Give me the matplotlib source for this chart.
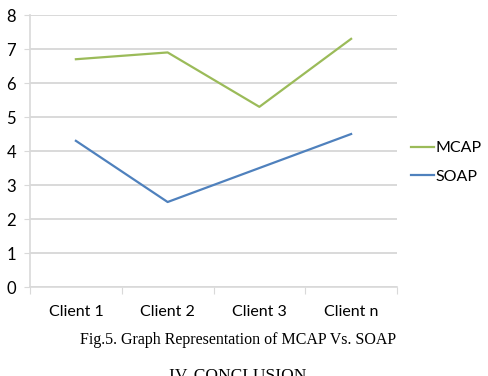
import matplotlib
matplotlib.use("Agg")
import matplotlib.pyplot as plt

clients = ["Client 1", "Client 2", "Client 3", "Client n"]
mcap = [6.7, 6.9, 5.3, 7.3]
soap = [4.3, 2.5, 3.5, 4.5]
yticks = [0, 1, 2, 3, 4, 5, 6, 7, 8]

plt.rcParams['font.family'] = ['Lato', 'DejaVu Sans']

fig = plt.figure(figsize=(4.88, 3.76), dpi=100)
ax = fig.add_axes([0.0615, 0.2367, 0.752, 0.7233])

x = list(range(len(clients)))
ax.plot(x, mcap, color="#9bbb59", lw=1.6, label="MCAP")
ax.plot(x, soap, color="#4f81bd", lw=1.6, label="SOAP")

ax.set_xlim(-0.5, len(clients) - 0.5)
ax.set_ylim(0, 8)
ax.set_yticks(yticks)
ax.set_yticklabels([str(v) for v in yticks], fontsize=12)
ax.yaxis.grid(True, color="#d9d9d9", lw=1.4)
ax.set_axisbelow(True)
ax.tick_params(axis="y", length=4, color="#d9d9d9", pad=6)

# category labels centred, tick marks on the boundaries
ax.set_xticks([i - 0.5 for i in range(len(clients) + 1)])
ax.set_xticklabels([])
ax.set_xticks(x, minor=True)
ax.set_xticklabels(clients, minor=True, fontsize=11.5)
ax.tick_params(axis="x", which="major", length=5, color="#d9d9d9", direction="out")
ax.tick_params(axis="x", which="minor", length=0, pad=13)

for s in ["top", "right"]:
    ax.spines[s].set_visible(False)
for s in ["left", "bottom"]:
    ax.spines[s].set_color("#d9d9d9")
    ax.spines[s].set_linewidth(1.2)

ax.legend(loc="center left", bbox_to_anchor=(1.0, 0.458), frameon=False,
          fontsize=11.5, handlelength=1.4, handletextpad=0.1, labelspacing=0.9)

fig.text(0.488, 0.095, "Fig.5. Graph Representation of MCAP Vs. SOAP",
         ha="center", va="center", family="Liberation Serif", fontsize=11.5)
fig.text(0.488, 0.0, "IV. CONCLUSION", ha="center", va="center",
         family="Liberation Serif", fontsize=12.5)

fig.savefig("out.png", dpi=100)
